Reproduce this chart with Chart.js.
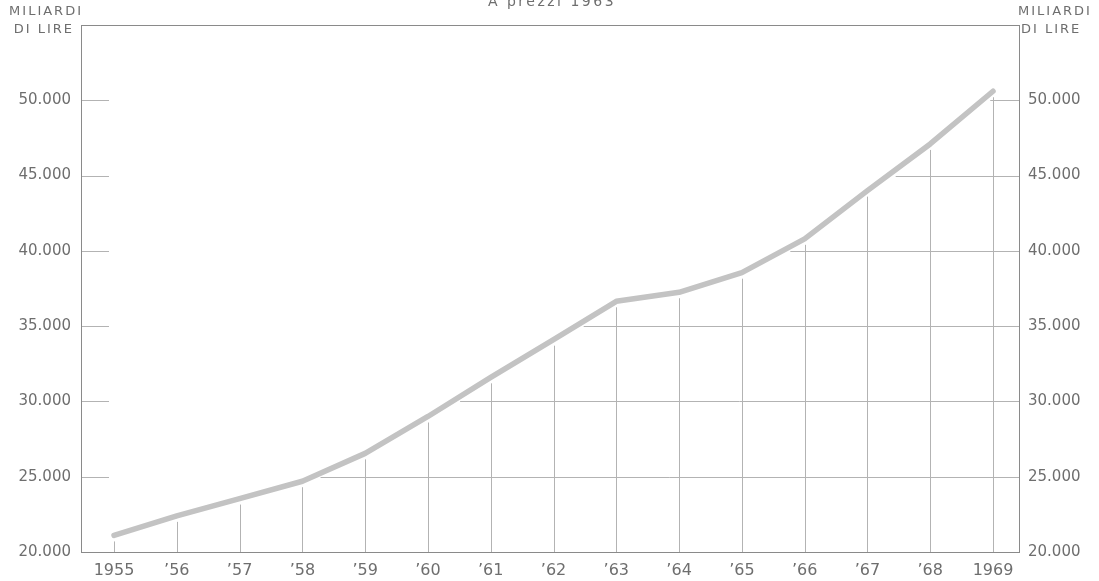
<!DOCTYPE html>
<html>
<head>
<meta charset="utf-8">
<script src="https://cdn.jsdelivr.net/npm/chart.js@4/dist/chart.umd.min.js"></script>
<style>
  html, body { margin: 0; padding: 0; background: #fff; }
  #wrap { width: 1099px; height: 581px; }
</style>
</head>
<body>
<div id="wrap"><canvas id="gdp" width="1099" height="581"></canvas></div>
<script>
// anni e valori (miliardi di lire, a prezzi 1963)
const years = [1955, 1956, 1957, 1958, 1959, 1960, 1961, 1962, 1963, 1964, 1965, 1966, 1967, 1968, 1969];
const values = [21100, 22400, 23550, 24700, 26550, 29000, 31600, 34100, 36650, 37250, 38550, 40800, 44000, 47100, 50600];
const yTicks = [20000, 25000, 30000, 35000, 40000, 45000, 50000];
const unitLabel = ['MILIARDI', 'DI LIRE'];
const titleText = 'A prezzi 1963';

const gridColor = '#b3b3b3';
const textColor = '#6e6e6e';

function fmt(v) {
  const s = String(v);
  return s.slice(0, s.length - 3) + '.' + s.slice(-3);
}

function yearLabel(y) {
  if (y === years[0] || y === years[years.length - 1]) return String(y);
  return '\u2019' + String(y).slice(2);
}

// griglia "a scalini": verticali fino al punto, orizzontali dalla curva all'asse destro
const dropGrid = {
  id: 'dropGrid',
  beforeDatasetsDraw(chart) {
    const {ctx, chartArea: a, scales: {x, y}} = chart;
    ctx.save();
    ctx.strokeStyle = gridColor;
    ctx.lineWidth = 1;
    ctx.beginPath();
    years.forEach((yr, i) => {
      const px = Math.round(x.getPixelForValue(yr)) + 0.5;
      const py = y.getPixelForValue(values[i]);
      ctx.moveTo(px, a.bottom);
      ctx.lineTo(px, py + 6);
    });
    yTicks.forEach(v => {
      if (v <= yTicks[0]) return;
      const py = Math.round(y.getPixelForValue(v)) + 0.5;
      // piccolo segno sull'asse sinistro
      ctx.moveTo(a.left, py);
      ctx.lineTo(a.left + 28, py);
      // incrocio con la curva
      let cx = null;
      for (let i = 0; i < values.length - 1; i++) {
        if (values[i] <= v && values[i + 1] > v) {
          const x0 = x.getPixelForValue(years[i]);
          const x1 = x.getPixelForValue(years[i + 1]);
          cx = x0 + (v - values[i]) / (values[i + 1] - values[i]) * (x1 - x0);
          break;
        }
      }
      if (cx !== null) {
        ctx.moveTo(cx + 8, py);
        ctx.lineTo(a.right, py);
      }
    });
    ctx.stroke();

    // cornice
    ctx.strokeStyle = '#8a8a8a';
    ctx.strokeRect(Math.round(a.left) + 0.5, Math.round(a.top) + 0.5,
      Math.round(a.right - a.left), Math.round(a.bottom - a.top));
    ctx.restore();
  },
  afterDraw(chart) {
    const {ctx, chartArea: a} = chart;
    ctx.save();
    ctx.fillStyle = textColor;
    ctx.font = '13px "DejaVu Sans"';
    ctx.letterSpacing = '2px';
    ctx.textBaseline = 'middle';
    ctx.textAlign = 'right';
    ctx.fillText(unitLabel[0], a.left + 2, 12);
    ctx.fillText(unitLabel[1], a.left - 7, 30);
    ctx.textAlign = 'left';
    ctx.fillText(unitLabel[0], a.right - 1, 12);
    ctx.fillText(unitLabel[1], a.right + 2, 30);
    ctx.font = '14px "DejaVu Sans"';
    ctx.letterSpacing = '2.5px';
    ctx.textAlign = 'center';
    ctx.textBaseline = 'alphabetic';
    ctx.fillText(titleText, (a.left + a.right) / 2 + 2, 6);
    ctx.restore();
  }
};

const yTickOpts = {
  color: textColor,
  font: {family: 'DejaVu Sans', size: 15},
  stepSize: 5000,
  callback: v => (yTicks.includes(v) ? fmt(v) : '')
};

new Chart(document.getElementById('gdp'), {
  type: 'line',
  data: {
    datasets: [{
      data: years.map((yr, i) => ({x: yr, y: values[i]})),
      borderColor: '#c3c3c3',
      borderWidth: 5.5,
      pointRadius: 0,
      tension: 0,
      borderCapStyle: 'round',
      borderJoinStyle: 'round'
    }]
  },
  options: {
    responsive: false,
    animation: false,
    devicePixelRatio: 1,
    layout: {padding: {top: 25, left: 0, right: 0, bottom: 0}},
    plugins: {legend: {display: false}, tooltip: {enabled: false}},
    scales: {
      x: {
        type: 'linear',
        min: 1954.474,
        max: 1969.414,
        afterBuildTicks: s => { s.ticks = years.map(v => ({value: v})); },
        afterFit: s => { s.height = 29; },
        grid: {display: false, drawTicks: false},
        border: {display: false},
        ticks: {
          color: textColor,
          font: {family: 'DejaVu Sans', size: 16},
          padding: 9,
          maxRotation: 0,
          autoSkip: false,
          callback: v => yearLabel(v)
        }
      },
      y: {
        position: 'left',
        min: 20000,
        max: 55000,
        afterFit: s => { s.width = 81; },
        grid: {display: false, drawTicks: false},
        border: {display: false},
        ticks: Object.assign({padding: 10}, yTickOpts)
      },
      y2: {
        position: 'right',
        min: 20000,
        max: 55000,
        afterFit: s => { s.width = 80; },
        grid: {display: false, drawTicks: false},
        border: {display: false},
        ticks: Object.assign({padding: 9}, yTickOpts)
      }
    }
  },
  plugins: [dropGrid]
});
</script>
</body>
</html>
